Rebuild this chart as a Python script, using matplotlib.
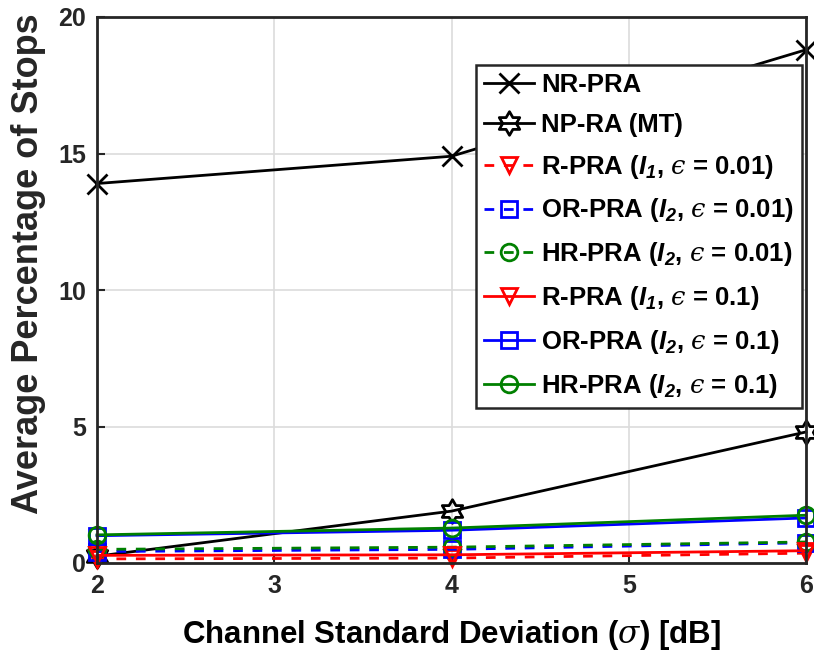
import numpy as np
import matplotlib
matplotlib.use("Agg")
import matplotlib.pyplot as plt
from matplotlib.path import Path

plt.rcParams['font.family'] = ['Liberation Sans', 'DejaVu Sans']
plt.rcParams['mathtext.fontset'] = 'custom'
plt.rcParams['mathtext.rm'] = 'Liberation Sans:weight=bold'
plt.rcParams['mathtext.it'] = 'DejaVu Serif:style=italic:weight=normal'
plt.rcParams['mathtext.bf'] = 'Liberation Sans:weight=bold'
plt.rcParams['mathtext.bfit'] = 'Liberation Sans:style=italic:weight=bold'

# Data
sigma_db = [2, 4, 6]
nr_pra = [13.9, 14.9, 18.8]
np_ra_mt = [0.25, 1.9, 4.8]
r_pra_001 = [0.15, 0.18, 0.36]
or_pra_001 = [0.42, 0.5, 0.74]
hr_pra_001 = [0.5, 0.58, 0.77]
r_pra_01 = [0.28, 0.3, 0.45]
or_pra_01 = [1.0, 1.2, 1.65]
hr_pra_01 = [1.03, 1.28, 1.75]

x_ticks = [2, 3, 4, 5, 6]
y_ticks = [0, 5, 10, 15, 20]

EPS = '\N{GREEK LUNATE EPSILON SYMBOL}'

# Six-pointed star (hexagram) marker
ang_out = np.deg2rad(90 + 60 * np.arange(6))
ang_in = ang_out + np.deg2rad(30)
pts = []
for a, b in zip(ang_out, ang_in):
    pts.append((np.cos(a), np.sin(a)))
    pts.append((0.577 * np.cos(b), 0.577 * np.sin(b)))
pts.append(pts[0])
hexagram = Path(pts, [Path.MOVETO] + [Path.LINETO] * 11 + [Path.CLOSEPOLY])

fig = plt.figure(figsize=(8.14, 6.57), dpi=100)
ax = fig.add_axes([97 / 814, 94 / 657, 709 / 814, 546 / 657])

dash = (0, (3.5, 3.5))
lw = 2
ms = 12
series = [
    (nr_pra, 'black', '-', 'x', 14, 'NR-PRA'),
    (np_ra_mt, 'black', '-', hexagram, 17, 'NP-RA (MT)'),
    (r_pra_001, 'red', dash, 'v', ms, r'R-PRA ($\mathbfit{I_1}$, $' + EPS + r'$ = 0.01)'),
    (or_pra_001, 'blue', dash, 's', ms, r'OR-PRA ($\mathbfit{I_2}$, $' + EPS + r'$ = 0.01)'),
    (hr_pra_001, 'green', dash, 'o', ms, r'HR-PRA ($\mathbfit{I_2}$, $' + EPS + r'$ = 0.01)'),
    (r_pra_01, 'red', '-', 'v', ms, r'R-PRA ($\mathbfit{I_1}$, $' + EPS + r'$ = 0.1)'),
    (or_pra_01, 'blue', '-', 's', ms, r'OR-PRA ($\mathbfit{I_2}$, $' + EPS + r'$ = 0.1)'),
    (hr_pra_01, 'green', '-', 'o', ms, r'HR-PRA ($\mathbfit{I_2}$, $' + EPS + r'$ = 0.1)'),
]
colors = {'black': 'black', 'red': '#ff0000', 'blue': '#0000ff', 'green': '#008000'}
for vals, c, ls, mk, size, lab in series:
    ax.plot(sigma_db, vals, color=colors[c], linestyle=ls, linewidth=lw,
            marker=mk, markersize=size, markerfacecolor='none',
            markeredgewidth=2, label=lab, clip_on=False)

ax.set_xlim(2, 6)
ax.set_ylim(0, 20)
ax.set_xticks(x_ticks)
ax.set_yticks(y_ticks)
ax.grid(True, color='#dcdcdc', linewidth=1.2)
ax.set_axisbelow(True)
for s in ax.spines.values():
    s.set_color('#262626')
    s.set_linewidth(2)
ax.tick_params(direction='in', length=6, width=1.5, colors='#262626',
               labelsize=18, pad=8)
for lbl in ax.get_xticklabels() + ax.get_yticklabels():
    lbl.set_fontweight('bold')

ax.set_xlabel(r'Channel Standard Deviation ($\sigma$) [dB]', fontsize=22.5,
              fontweight='bold', labelpad=14, color='black')
ax.set_ylabel('Average Percentage of Stops', fontsize=26, fontweight='bold',
              color='#262626')
ax.yaxis.set_label_coords(-0.072, 0.549)

leg = ax.legend(loc='upper right', bbox_to_anchor=(802 / 814, 1 - 65 / 657),
                bbox_transform=fig.transFigure, prop={'size': 18.5, 'weight': 'bold'},
                fancybox=False, framealpha=1, edgecolor='#262626',
                handlelength=1.95, handletextpad=0.28, labelspacing=0.62,
                borderpad=0.3, borderaxespad=0)
leg.get_frame().set_linewidth(1.8)

fig.savefig('out.png', dpi=100)
